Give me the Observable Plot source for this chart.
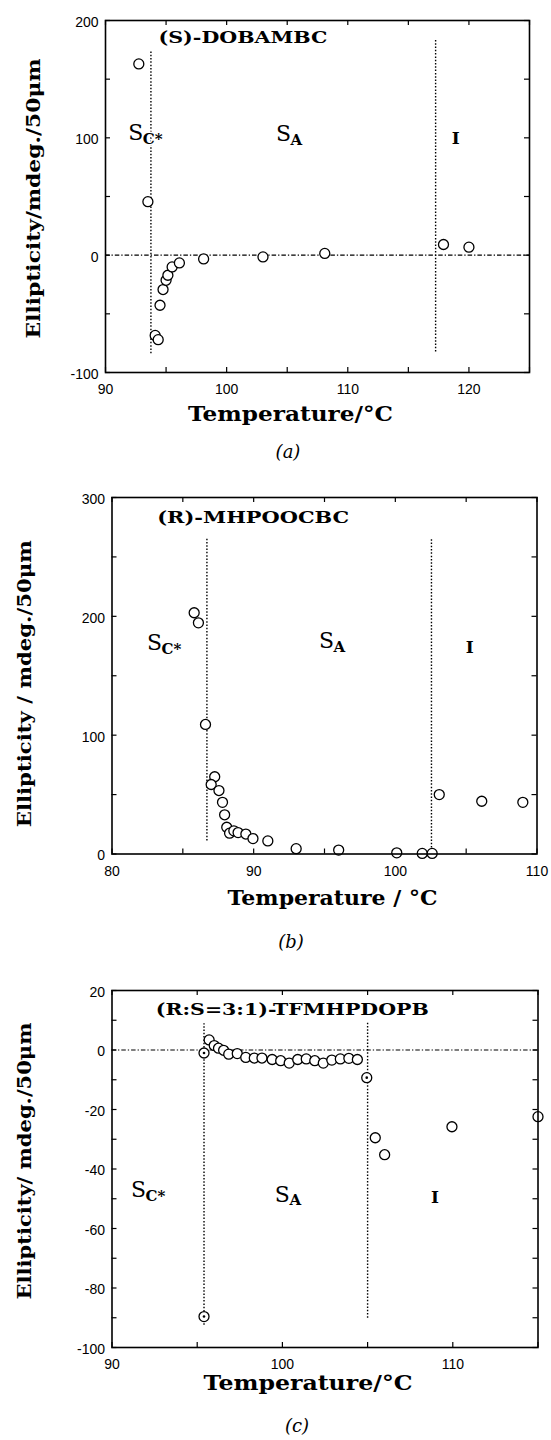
<!DOCTYPE html>
<html>
<head>
<meta charset="utf-8">
<script src="https://cdn.jsdelivr.net/npm/d3@7"></script>
<script src="https://cdn.jsdelivr.net/npm/@observablehq/plot@0.6"></script>
<style>
  body { margin: 0; background: #fff; }
  #root { position: relative; width: 551px; height: 1440px; overflow: hidden; }
  .panel { position: absolute; left: 0; }
  .cap { position: absolute; font-family: "DejaVu Serif", serif; font-style: italic; font-size: 18px; line-height: 20px; color: #000; transform: translate(-50%, -50%); white-space: nowrap; }
</style>
</head>
<body>
<div id="root"></div>
<script>
// ---------------- Panel (a): (S)-DOBAMBC ----------------
const aTemp = [92.75, 93.5, 94.1, 94.35, 94.5, 94.75, 95.0, 95.15, 95.5, 96.1, 98.1, 103.0, 108.1, 117.9, 120.0];
const aEll  = [163, 45.6, -68.4, -72, -42.7, -29.3, -21.4, -17.1, -10, -6.6, -3.2, -1.5, 1.5, 9.1, 6.8];
const aBoundTemp = [93.75, 117.25];
const aBoundLow  = [-84, -82.6];
const aBoundHigh = [174, 184];
const aPhaseMain = ["S", "S", "I"];
const aPhaseSub  = ["C*", "A", ""];
const aPhaseTemp = [92.5, 104.7, 118.9];
const aPhaseEll  = [103.8, 103, 99];
const aTitle = ["(S)-DOBAMBC"];
const aTitleTemp = [101.35];
const aTitleEll  = [185.5];
const aXTicks = [90, 100, 110, 120];
const aXMinor = [90, 95, 100, 105, 110, 115, 120, 125];
const aYTicks = [-100, 0, 100, 200];
const aYMinor = [-100, -50, 0, 50, 100, 150, 200];
const aXDomain = [90, 125];
const aYDomain = [-100, 200];
const aXLabel = "Temperature/°C";
const aYLabel = "Ellipticity/mdeg./50μm";
const aCaption = "(a)";

// ---------------- Panel (b): (R)-MHPOOCBC ----------------
const bTemp = [85.8, 86.1, 86.6, 87.25, 87.0, 87.55, 87.8, 87.95, 88.1, 88.3, 88.6, 88.9, 89.45, 89.95, 91.0, 93.0, 96.0, 100.1, 101.9, 102.6, 103.1, 106.1, 109.0];
const bEll  = [203, 194.5, 109, 65, 58.5, 53.4, 43.5, 33, 22.5, 17.5, 19.5, 18, 16.8, 13, 11, 4.5, 3.3, 1, 0.5, 0.5, 50, 44.4, 43.5];
const bBoundTemp = [86.7, 102.55];
const bBoundLow  = [11, 5];
const bBoundHigh = [265, 266];
const bPhaseMain = ["S", "S", "I"];
const bPhaseSub  = ["C*", "A", ""];
const bPhaseTemp = [83.0, 95.14, 105.25];
const bPhaseEll  = [177.6, 179, 173.7];
const bTitle = ["(R)-MHPOOCBC"];
const bTitleTemp = [89.97];
const bTitleEll  = [283];
const bXTicks = [80, 90, 100, 110];
const bXMinor = [80, 85, 90, 95, 100, 105, 110];
const bYTicks = [0, 100, 200, 300];
const bYMinor = [0, 50, 100, 150, 200, 250, 300];
const bXDomain = [80, 110];
const bYDomain = [0, 300];
const bXLabel = "Temperature / °C";
const bYLabel = "Ellipticity / mdeg./50μm";
const bCaption = "(b)";

// ---------------- Panel (c): (R:S=3:1)-TFMHPDOPB ----------------
const cTemp = [95.4, 95.4, 95.7, 96.0, 96.25, 96.55, 96.85, 97.35, 97.85, 98.35, 98.8, 99.4, 99.9, 100.4, 100.9, 101.4, 101.9, 102.4, 102.9, 103.4, 103.9, 104.4, 104.95, 105.45, 106.0, 109.95, 115.0];
const cEll  = [-1, -89.6, 3.4, 1.5, 0.6, -0.1, -1.4, -1.2, -2.5, -2.7, -2.7, -3.2, -3.6, -4.4, -3.2, -3.0, -3.6, -4.4, -3.4, -3.0, -2.8, -3.2, -9.3, -29.5, -35.2, -25.8, -22.4];
const cMarkTemp = [95.4, 95.4, 104.95];
const cMarkEll  = [-1, -89.6, -9.3];
const cBoundTemp = [95.4, 105.0];
const cBoundLow  = [-92.5, -90.2];
const cBoundHigh = [8.8, 9.0];
const cPhaseMain = ["S", "S", "I"];
const cPhaseSub  = ["C*", "A", ""];
const cPhaseTemp = [91.56, 100.0, 108.96];
const cPhaseEll  = [-47, -48.6, -49.5];
const cTitle = ["(R:S=3:1)-TFMHPDOPB"];
const cTitleTemp = [100.58];
const cTitleEll  = [13.5];
const cXTicks = [90, 100, 110];
const cXMinor = [90, 95, 100, 105, 110, 115];
const cYTicks = [-100, -80, -60, -40, -20, 0, 20];
const cYMinor = [-100, -90, -80, -70, -60, -50, -40, -30, -20, -10, 0, 10, 20];
const cXDomain = [90, 115];
const cYDomain = [-100, 20];
const cXLabel = "Temperature/°C";
const cYLabel = "Ellipticity/ mdeg./50μm";
const cCaption = "(c)";

const SERIF = "'DejaVu Serif', serif";
const SANS = "'Liberation Sans', Arial, sans-serif";
const W = 551;

function drawPanel(p) {
  const fh = p.height - p.marginTop - p.marginBottom;
  const fw = W - p.marginLeft - p.marginRight;
  const points = p.temp.map((t, i) => ({t, e: p.ell[i]}));
  const bounds = p.boundTemp.map((t, i) => ({t, lo: p.boundLow[i], hi: p.boundHigh[i]}));
  const phases = p.phaseMain.map((m, i) => ({main: m, sub: p.phaseSub[i], t: p.phaseTemp[i], e: p.phaseEll[i]}));
  const titles = p.title.map((s, i) => ({s, t: p.titleTemp[i], e: p.titleEll[i]}));
  const marks = [
    Plot.tickX(p.xMinor, {x: d => d, insetTop: fh - 5, stroke: "#000", strokeWidth: 1.2}),
    Plot.tickX(p.xMinor, {x: d => d, insetBottom: fh - 5, stroke: "#000", strokeWidth: 1.2}),
    Plot.tickY(p.yMinor, {y: d => d, insetRight: fw - 5, stroke: "#000", strokeWidth: 1.2}),
    Plot.tickY(p.yMinor, {y: d => d, insetLeft: fw - 5, stroke: "#000", strokeWidth: 1.2}),
    Plot.axisX({ticks: p.xTicks, tickSize: 0, tickPadding: 12, tickFormat: d => String(d), fontSize: 14, fontFamily: SANS, label: null}),
    Plot.axisY({ticks: p.yTicks, tickSize: 0, tickPadding: 7, dy: 2, tickFormat: d => String(d), fontSize: 14, fontFamily: SANS, label: null})
  ];
  if (p.zeroLine) marks.push(Plot.ruleY([0], {stroke: "#000", strokeWidth: 1.1, strokeDasharray: "4.5,2,1.3,2"}));
  marks.push(
    Plot.ruleX(bounds, {x: "t", y1: "lo", y2: "hi", stroke: "#000", strokeWidth: 1.4, strokeDasharray: "1.5,1.8"}),
    Plot.text(phases.filter(d => d.main === "S"), {x: "t", y: "e", text: "main", fontFamily: SERIF, fontSize: 22, textAnchor: "middle", lineAnchor: "middle", fill: "#000", stroke: "#fff", strokeWidth: 3, paintOrder: "stroke"}),
    Plot.text(phases.filter(d => d.sub), {x: "t", y: "e", text: "sub", fontFamily: SERIF, fontWeight: "bold", fontSize: 15, textAnchor: "start", lineAnchor: "middle", dx: 7, dy: 6, fill: "#000", stroke: "#fff", strokeWidth: 3, paintOrder: "stroke"}),
    Plot.text(phases.filter(d => d.main === "I"), {x: "t", y: "e", text: "main", fontFamily: SERIF, fontWeight: "bold", fontSize: 17, textAnchor: "middle", lineAnchor: "middle", fill: "#000"}),
    Plot.text(titles, {x: "t", y: "e", text: "s", fontFamily: SERIF, fontWeight: "bold", fontSize: 17, textAnchor: "middle", lineAnchor: "middle", fill: "#000"}),
    Plot.dot(points, {x: "t", y: "e", r: 5, stroke: "#000", fill: "#fff", strokeWidth: 1.3})
  );
  if (p.markTemp) {
    const marked = p.markTemp.map((t, i) => ({t, e: p.markEll[i]}));
    marks.push(Plot.dot(marked, {x: "t", y: "e", r: 1.3, fill: "#000", stroke: null}));
  }
  marks.push(
    Plot.frame({stroke: "#000", strokeWidth: 1.6}),
    Plot.text([p.xLabel], {frameAnchor: "bottom", dx: p.xLabelDx, dy: p.xLabelDy, fontFamily: SERIF, fontWeight: "bold", fontSize: 20, textAnchor: "middle", lineAnchor: "middle", fill: "#000"}),
    Plot.text([p.yLabel], {frameAnchor: "left", rotate: -90, dx: p.yLabelDx, dy: p.yLabelDy, fontFamily: SERIF, fontWeight: "bold", fontSize: 19, textAnchor: "middle", lineAnchor: "middle", fill: "#000"})
  );
  const svg = Plot.plot({
    width: W, height: p.height,
    marginTop: p.marginTop, marginBottom: p.marginBottom, marginLeft: p.marginLeft, marginRight: p.marginRight,
    x: {domain: p.xDomain}, y: {domain: p.yDomain},
    style: {background: "transparent", overflow: "visible", fontFamily: SANS, fontSize: "14px", color: "#000"},
    marks
  });
  const lengths = new Map([[p.title[0], p.titleLen], [p.xLabel, p.xLabelLen], [p.yLabel, p.yLabelLen]]);
  svg.querySelectorAll("text").forEach(el => {
    const L = lengths.get(el.textContent);
    if (L) { el.setAttribute("textLength", L); el.setAttribute("lengthAdjust", "spacingAndGlyphs"); }
  });
  const div = document.createElement("div");
  div.className = "panel";
  div.style.top = p.top + "px";
  div.appendChild(svg);
  root.appendChild(div);
  const cap = document.createElement("div");
  cap.className = "cap";
  cap.textContent = p.caption;
  cap.style.left = p.capX + "px";
  cap.style.top = p.capY + "px";
  root.appendChild(cap);
}

const root = document.getElementById("root");

drawPanel({
  top: 0, height: 432, marginTop: 20, marginBottom: 60, marginLeft: 105, marginRight: 22,
  xDomain: aXDomain, yDomain: aYDomain, xTicks: aXTicks, xMinor: aXMinor, yTicks: aYTicks, yMinor: aYMinor,
  temp: aTemp, ell: aEll, boundTemp: aBoundTemp, boundLow: aBoundLow, boundHigh: aBoundHigh,
  phaseMain: aPhaseMain, phaseSub: aPhaseSub, phaseTemp: aPhaseTemp, phaseEll: aPhaseEll,
  title: aTitle, titleTemp: aTitleTemp, titleEll: aTitleEll, titleLen: 169,
  zeroLine: true,
  xLabel: aXLabel, xLabelDx: -27, xLabelDy: 42, xLabelLen: 205,
  yLabel: aYLabel, yLabelDx: -72, yLabelDy: 2, yLabelLen: 280,
  caption: aCaption, capX: 288, capY: 452
});

drawPanel({
  top: 480, height: 440, marginTop: 17, marginBottom: 66.5, marginLeft: 111.5, marginRight: 14.5,
  xDomain: bXDomain, yDomain: bYDomain, xTicks: bXTicks, xMinor: bXMinor, yTicks: bYTicks, yMinor: bYMinor,
  temp: bTemp, ell: bEll, boundTemp: bBoundTemp, boundLow: bBoundLow, boundHigh: bBoundHigh,
  phaseMain: bPhaseMain, phaseSub: bPhaseSub, phaseTemp: bPhaseTemp, phaseEll: bPhaseEll,
  title: bTitle, titleTemp: bTitleTemp, titleEll: bTitleEll, titleLen: 192,
  zeroLine: false,
  xLabel: bXLabel, xLabelDx: 8, xLabelDy: 44.5, xLabelLen: 210,
  yLabel: bYLabel, yLabelDx: -87.5, yLabelDy: 8, yLabelLen: 287,
  caption: bCaption, capX: 291, capY: 942
});

drawPanel({
  top: 960, height: 440, marginTop: 30, marginBottom: 53, marginLeft: 111.5, marginRight: 13.5,
  xDomain: cXDomain, yDomain: cYDomain, xTicks: cXTicks, xMinor: cXMinor, yTicks: cYTicks, yMinor: cYMinor,
  temp: cTemp, ell: cEll, markTemp: cMarkTemp, markEll: cMarkEll,
  boundTemp: cBoundTemp, boundLow: cBoundLow, boundHigh: cBoundHigh,
  phaseMain: cPhaseMain, phaseSub: cPhaseSub, phaseTemp: cPhaseTemp, phaseEll: cPhaseEll,
  title: cTitle, titleTemp: cTitleTemp, titleEll: cTitleEll, titleLen: 273,
  zeroLine: true,
  xLabel: cXLabel, xLabelDx: -17, xLabelDy: 36.5, xLabelLen: 209,
  yLabel: cYLabel, yLabelDx: -87.5, yLabelDy: -8, yLabelLen: 277,
  caption: cCaption, capX: 297, capY: 1426
});
</script>
</body>
</html>
